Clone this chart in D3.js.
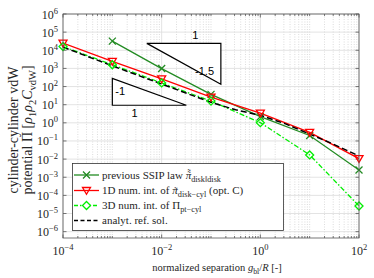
<!DOCTYPE html>
<html>
<head>
<meta charset="utf-8">
<script src="https://cdn.jsdelivr.net/npm/d3@7"></script>
<style>
body { margin: 0; background: #fff; }
text { font-family: "Liberation Serif", "Times New Roman", serif; fill: #262626; white-space: pre; }
</style>
</head>
<body>
<script>

var margin = {left: 63, right: 15, top: 14, bottom: 40},
    width = 374 - margin.left - margin.right,
    height = 278 - margin.top - margin.bottom;

// data (log-log)
var gaps = [1e-4, 1e-3, 1e-2, 1e-1, 1, 10, 100];
var ssipGaps = [1e-3, 1e-2, 1e-1, 1, 10, 100];
var ssipVals = [3.2e4, 980, 37, 2.2, 0.2, 2.5e-3];
var num1dVals = [2.5e4, 2.45e3, 263, 26, 3.4, 0.3, 0.0107];
var num3dVals = [1.6e4, 1.6e3, 158, 15.8, 1.02, 0.017, 2.6e-5];
var refGaps = [1e-4, 1e-3, 1e-2, 1e-1, 0.316, 1, 3.16, 10, 31.6, 100];
var refVals = [1.5e4, 1.38e3, 138, 13.5, 5.2, 2.6, 0.9, 0.24, 0.063, 0.015];

var xTickVals = [1e-4, 1e-2, 1, 1e2];
var xTickExp = ["\u22124", "\u22122", "0", "2"];
var yTickExp = d3.range(-6, 7);

// slope triangles: [x, y] corners in data units
var tri15 = [[Math.pow(10, -2.3), Math.pow(10, 4.38)], [Math.pow(10, -0.8), Math.pow(10, 4.38)], [Math.pow(10, -0.8), Math.pow(10, 2.13)]];
var tri1 = [[1e-3, Math.pow(10, 2.45)], [1e-3, Math.pow(10, 0.97)], [Math.pow(10, -1.5), Math.pow(10, 0.97)]];

var svg = d3.select("body")
    .append("svg")
    .attr("width", 374)
    .attr("height", 278);

var plot = svg.append("g")
    .attr("transform", "translate(" + margin.left + "," + margin.top + ")");

var xScale = d3.scaleLog()
    .domain([1e-4, 1e2])
    .range([0, width]);

var yScale = d3.scaleLog()
    .domain([Math.pow(10, -6.35), 1e6])
    .range([height, 0]);

//Grid: minor x dotted, major solid
var minorX = [];
for (var e = -4; e < 2; e++) {
    for (var m = 1; m <= 9; m++) {
        var v = m * Math.pow(10, e);
        if (!(m == 1 && e % 2 == 0)) minorX.push(v);
    }
}

plot.append("g").selectAll("line")
    .data(minorX)
    .enter().append("line")
    .attr("x1", function(d) { return xScale(d); })
    .attr("x2", function(d) { return xScale(d); })
    .attr("y1", 0).attr("y2", height)
    .attr("stroke", "#c4c4c4")
    .attr("stroke-width", 0.6)
    .attr("stroke-dasharray", "1,1.5");

plot.append("g").selectAll("line")
    .data(xTickVals)
    .enter().append("line")
    .attr("x1", function(d) { return xScale(d); })
    .attr("x2", function(d) { return xScale(d); })
    .attr("y1", 0).attr("y2", height)
    .attr("stroke", "#dcdcdc")
    .attr("stroke-width", 0.8);

plot.append("g").selectAll("line")
    .data(yTickExp)
    .enter().append("line")
    .attr("x1", 0).attr("x2", width)
    .attr("y1", function(d) { return yScale(Math.pow(10, d)); })
    .attr("y2", function(d) { return yScale(Math.pow(10, d)); })
    .attr("stroke", "#dcdcdc")
    .attr("stroke-width", 0.8);

//Ticks (inside, all four sides)
var tickG = plot.append("g").attr("stroke", "#444").attr("stroke-width", 0.7);
minorX.forEach(function(d) {
    tickG.append("line").attr("x1", xScale(d)).attr("x2", xScale(d)).attr("y1", height).attr("y2", height - 2);
    tickG.append("line").attr("x1", xScale(d)).attr("x2", xScale(d)).attr("y1", 0).attr("y2", 2);
});
xTickVals.forEach(function(d) {
    tickG.append("line").attr("x1", xScale(d)).attr("x2", xScale(d)).attr("y1", height).attr("y2", height - 3.5);
    tickG.append("line").attr("x1", xScale(d)).attr("x2", xScale(d)).attr("y1", 0).attr("y2", 3.5);
});
yTickExp.forEach(function(d) {
    var yy = yScale(Math.pow(10, d));
    tickG.append("line").attr("x1", 0).attr("x2", 3.5).attr("y1", yy).attr("y2", yy);
    tickG.append("line").attr("x1", width).attr("x2", width - 3.5).attr("y1", yy).attr("y2", yy);
});

//Tick labels
var tl = plot.append("g").attr("font-size", "12px");
xTickVals.forEach(function(d, i) {
    var t = tl.append("text")
        .attr("x", xScale(d))
        .attr("y", height + 17)
        .style("text-anchor", "middle");
    t.append("tspan").text("10");
    t.append("tspan").attr("font-size", "8.5px").attr("dy", -5).text(xTickExp[i]);
});
yTickExp.forEach(function(d) {
    var t = tl.append("text")
        .attr("x", -5)
        .attr("y", yScale(Math.pow(10, d)) + 4.5)
        .style("text-anchor", "end");
    t.append("tspan").text("10");
    t.append("tspan").attr("font-size", "8.5px").attr("dy", -5).text(d < 0 ? "\u2212" + (-d) : "" + d);
});

//Slope triangles
var triLine = d3.line()
    .x(function(d) { return xScale(d[0]); })
    .y(function(d) { return yScale(d[1]); });

[tri15, tri1].forEach(function(tr) {
    plot.append("path")
        .attr("d", triLine(tr) + "Z")
        .attr("fill", "#fff")
        .attr("stroke", "#000")
        .attr("stroke-width", 1.2);
});

var sans = "'Liberation Sans', Arial, sans-serif";
plot.append("text").attr("x", xScale(Math.pow(10, -1.32))).attr("y", yScale(Math.pow(10, 4.38)) - 4)
    .style("text-anchor", "middle").style("font-family", sans).style("fill", "#000").attr("font-size", "11px").text("1");
plot.append("text").attr("x", xScale(Math.pow(10, -1.13))).attr("y", yScale(Math.pow(10, 2.87)) + 4)
    .style("text-anchor", "middle").style("font-family", sans).style("fill", "#000").attr("font-size", "11px").text("-1.5");
plot.append("text").attr("x", xScale(Math.pow(10, -2.84))).attr("y", yScale(Math.pow(10, 1.75)) + 4)
    .style("text-anchor", "middle").style("font-family", sans).style("fill", "#000").attr("font-size", "11px").text("-1");
plot.append("text").attr("x", xScale(Math.pow(10, -2.55))).attr("y", yScale(Math.pow(10, 0.97)) + 12)
    .style("text-anchor", "middle").style("font-family", sans).style("fill", "#000").attr("font-size", "11px").text("1");

//Markers
var markX = "M-3.5,-3.5L3.5,3.5M-3.5,3.5L3.5,-3.5";
var markV = "M-4,-3L4,-3L0,3.8Z";
var markD = "M0,-4L4,0L0,4L-4,0Z";

var line = d3.line()
    .x(function(d) { return xScale(d[0]); })
    .y(function(d) { return yScale(d[1]); });

var series = [
    {xs: ssipGaps, ys: ssipVals, color: "#238b23", dash: null, mark: markX},
    {xs: gaps, ys: num1dVals, color: "#ff0000", dash: null, mark: markV},
    {xs: gaps, ys: num3dVals, color: "#00ee00", dash: "5,2,1.5,2", mark: markD},
    {xs: refGaps, ys: refVals, color: "#000", dash: "6,3", mark: null}
];

plot.append("clipPath").attr("id", "clip")
    .append("rect").attr("width", width).attr("height", height);

var dataG = plot.append("g").attr("clip-path", "url(#clip)");
series.forEach(function(s, i) {
    var pts = s.xs.map(function(x, i) { return [x, s.ys[i]]; });
    dataG.append("path")
        .attr("d", line(pts))
        .attr("fill", "none")
        .attr("stroke", s.color)
        .attr("stroke-width", i == 3 ? 1.5 : 1.3)
        .attr("stroke-dasharray", s.dash);
    if (s.mark) {
        plot.append("g").selectAll("path")
            .data(pts)
            .enter().append("path")
            .attr("d", s.mark)
            .attr("transform", function(d) { return "translate(" + xScale(d[0]) + "," + yScale(d[1]) + ")"; })
            .attr("fill", "none")
            .attr("stroke", s.color)
            .attr("stroke-width", 1.3);
    }
});

//Axis box
plot.append("rect")
    .attr("width", width).attr("height", height)
    .attr("fill", "none")
    .attr("stroke", "#555")
    .attr("stroke-width", 0.8);

//Rich text helper (main text + subscripts + tildes)
function rich(parent, parts, size) {
    var g = parent.append("g");
    var x = 0;
    parts.forEach(function(p) {
        var fs = p.sub ? size * 0.75 : size;
        var t = g.append("text")
            .attr("x", x)
            .attr("y", p.sub ? size * 0.28 : 0)
            .attr("font-size", fs + "px")
            .style("font-style", p.it ? "italic" : null)
            .text(p.t);
        var w = t.node().getComputedTextLength();
        for (var k = 0; k < (p.tilde || 0); k++) {
            g.append("text")
                .attr("x", x + w / 2 + 0.8)
                .attr("y", -k * size * 0.24 + size * 0.08)
                .attr("font-size", size * 0.9 + "px")
                .style("text-anchor", "middle")
                .text("\u02dc");
        }
        x += w;
    });
    return {g: g, w: x};
}

//Legend
var lg = svg.append("g");
lg.append("rect")
    .attr("x", 72.5).attr("y", 163.5)
    .attr("width", 211).attr("height", 67)
    .attr("fill", "#fff")
    .attr("stroke", "#333")
    .attr("stroke-width", 0.8);

var legendRows = [
    [{t: "previous SSIP law "}, {t: "\u03c0", it: true, tilde: 2}, {t: "disk\u2016disk", sub: true}],
    [{t: "1D num. int. of "}, {t: "\u03c0", it: true, tilde: 1}, {t: "disk\u2212cyl", sub: true}, {t: " (opt. C)"}],
    [{t: "3D num. int. of \u03a0"}, {t: "pt\u2212cyl", sub: true}],
    [{t: "analyt. ref. sol."}]
];
var legendY = [175, 190.5, 205.5, 220.5];

series.forEach(function(s, i) {
    var yy = legendY[i];
    lg.append("line")
        .attr("x1", 74).attr("x2", 99).attr("y1", yy).attr("y2", yy)
        .attr("stroke", s.color).attr("stroke-width", 1.3)
        .attr("stroke-dasharray", s.dash ? (i == 3 ? "4,2.5" : "4,2,1.5,2") : null);
    if (s.mark) {
        lg.append("path").attr("d", s.mark)
            .attr("transform", "translate(86.5," + yy + ")")
            .attr("fill", i == 2 ? "#fff" : "none")
            .attr("stroke", s.color).attr("stroke-width", 1.3);
    }
    var r = rich(lg, legendRows[i], 11);
    r.g.attr("transform", "translate(102," + (yy + 3.5) + ")");
});

//X label
var xl = rich(svg, [{t: "normalized separation "}, {t: "g", it: true}, {t: "bl", sub: true}, {t: "/"}, {t: "R", it: true}, {t: " [-]"}], 10.5);
xl.g.attr("transform", "translate(" + (217 - xl.w / 2) + ",271)");

//Y label (two lines)
var yl1 = svg.append("g").attr("transform", "translate(18,130) rotate(-90)");
var r1 = rich(yl1, [{t: "cylinder-cylinder vdW"}], 14);
r1.g.attr("transform", "translate(" + (-r1.w / 2) + ",0)");

var yl2 = svg.append("g").attr("transform", "translate(32,130) rotate(-90)");
var r2 = rich(yl2, [{t: "potential \u03a0 ["}, {t: "\u03c1", it: true}, {t: "1", sub: true}, {t: "\u03c1", it: true}, {t: "2", sub: true},
    {t: "C", it: true}, {t: "vdW", sub: true}, {t: "]"}], 14);
r2.g.attr("transform", "translate(" + (-r2.w / 2) + ",0)");

</script>
</body>
</html>
